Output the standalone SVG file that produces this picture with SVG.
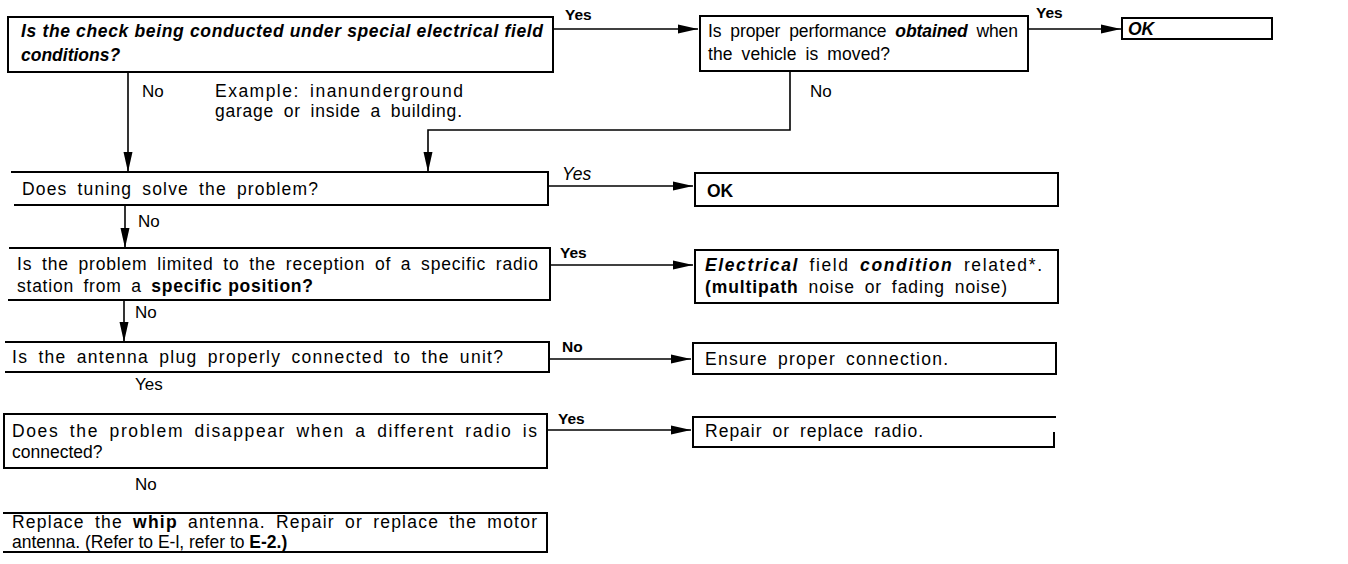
<svg xmlns="http://www.w3.org/2000/svg" width="1348" height="564" viewBox="0 0 1348 564">
<defs>
<marker id="ah" markerUnits="userSpaceOnUse" markerWidth="20" markerHeight="10" refX="20" refY="5" orient="auto">
<path d="M0,0.5 L20,5 L0,9.5 z" fill="#000"/>
</marker>
<style>
.box{fill:#fff;stroke:#000;stroke-width:2}
.open{fill:none;stroke:#000;stroke-width:2}
.con{fill:none;stroke:#000;stroke-width:1.6;marker-end:url(#ah)}
text{font-family:"Liberation Sans",Arial,sans-serif;font-size:17.5px;fill:#000}
.ws{word-spacing:4px}
.bi{font-weight:bold;font-style:italic}
.b{font-weight:bold}
.lab{font-weight:bold;font-size:15.5px}
.sm{font-size:17px}
</style>
</defs>
<rect width="1348" height="564" fill="#fff"/>

<g id="connectors">
<path class="con" d="M128,72 V172"/>
<path class="con" d="M553,29 H698"/>
<path class="con" d="M1028,29 H1121"/>
<path class="con" d="M790,71 V130 H428 V172"/>
<path class="con" d="M548,186 H693"/>
<path class="con" d="M125,205 V248"/>
<path class="con" d="M550,265 H693"/>
<path class="con" d="M124,300 V342"/>
<path class="con" d="M549,359 H691"/>
<path class="con" d="M547,430 H691"/>
</g>

<g id="labels">
<text class="lab" x="565" y="20">Yes</text>
<text class="lab" x="1036" y="18">Yes</text>
<text class="sm" x="142" y="97">No</text>
<text class="ws" x="215" y="97" textLength="248" lengthAdjust="spacing">Example:  inanunderground</text>
<text class="ws" x="215" y="117" textLength="247" lengthAdjust="spacing">garage or inside a building.</text>
<text class="sm" x="810" y="97">No</text>
<text x="562" y="180" font-style="italic" font-size="15.5">Yes</text>
<text class="sm" x="138" y="227">No</text>
<text class="lab" x="560" y="258">Yes</text>
<text class="sm" x="135" y="318">No</text>
<text class="lab" x="562" y="352">No</text>
<text class="sm" x="135" y="390">Yes</text>
<text class="lab" x="558" y="424">Yes</text>
<text class="sm" x="135" y="490">No</text>
</g>

<g id="n1">
<rect class="box" x="8" y="17" width="545" height="55"/>
<text class="bi" x="21" y="37" textLength="522" lengthAdjust="spacing">Is the check being conducted under special electrical field</text>
<text class="bi" x="21" y="61">conditions?</text>
</g>

<g id="n2">
<rect class="box" x="700" y="16" width="328" height="55"/>
<text class="ws" x="708" y="37" textLength="310" lengthAdjust="spacing">Is proper performance <tspan class="bi">obtained</tspan> when</text>
<text class="ws" x="708" y="60" textLength="182" lengthAdjust="spacing">the vehicle is moved?</text>
</g>

<g id="n3">
<rect class="box" x="1122" y="18" width="150" height="21"/>
<text class="bi" x="1128" y="35">OK</text>
</g>

<g id="n4">
<path class="open" d="M11,172 H548 V205 H14"/>
<text class="ws" x="22" y="195" textLength="296" lengthAdjust="spacing">Does tuning solve the problem?</text>
</g>

<g id="n5">
<rect class="box" x="695" y="173" width="363" height="33"/>
<text class="b" x="707" y="197">OK</text>
</g>

<g id="n6">
<path class="open" d="M9,248 H550 V300 H8"/>
<text class="ws" x="17" y="270" textLength="521" lengthAdjust="spacing">Is the problem limited to the reception of a specific radio</text>
<text class="ws" x="17" y="292" textLength="296" lengthAdjust="spacing">station from a <tspan class="b" word-spacing="0">specific position?</tspan></text>
</g>

<g id="n7">
<rect class="box" x="695" y="250" width="363" height="53"/>
<text class="ws" x="705" y="271" textLength="337" lengthAdjust="spacing"><tspan class="bi">Electrical</tspan> field <tspan class="bi">condition</tspan> related*.</text>
<text class="ws" x="705" y="293" textLength="302" lengthAdjust="spacing"><tspan class="b">(multipath</tspan> noise or fading noise)</text>
</g>

<g id="n8">
<path class="open" d="M5,342 H549 V372 H5"/>
<text class="ws" x="12" y="363" textLength="491" lengthAdjust="spacing">Is the antenna plug properly connected to the unit?</text>
</g>

<g id="n9">
<rect class="box" x="693" y="343" width="363" height="31"/>
<text class="ws" x="705" y="365" textLength="243" lengthAdjust="spacing">Ensure proper connection.</text>
</g>

<g id="n10">
<rect class="box" x="4" y="414" width="543" height="54"/>
<text class="ws" x="12" y="437" textLength="525" lengthAdjust="spacing">Does the problem disappear when a different radio is</text>
<text x="12" y="458">connected?</text>
</g>

<g id="n11">
<path class="open" d="M693,447 V417 H1056 M692,447 H1053 M1054,432 V448"/>
<text class="ws" x="705" y="437" textLength="218" lengthAdjust="spacing">Repair or replace radio.</text>
</g>

<g id="n12">
<path class="open" d="M3,513 H547 V552 H3"/>
<text class="ws" x="12" y="528" textLength="525" lengthAdjust="spacing">Replace the <tspan class="b">whip</tspan> antenna.  Repair or replace the motor</text>
<text x="12" y="548" font-size="16">antenna. (Refer to E-l, refer to <tspan class="b">E-2.)</tspan></text>
</g>
</svg>
